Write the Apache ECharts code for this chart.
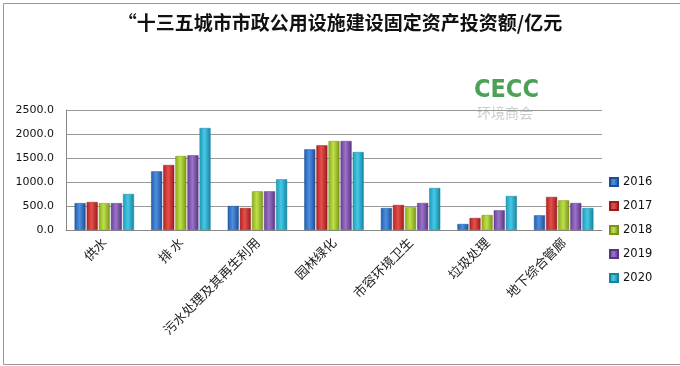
<!DOCTYPE html>
<html><head><meta charset="utf-8">
<script src="https://cdn.jsdelivr.net/npm/echarts@6/dist/echarts.min.js"></script>
<style>html,body{margin:0;padding:0;background:#fff}#c{width:680px;height:366px}</style>
</head><body><div id="c"></div>
<script>
const categories = ['供水','排 水','污水处理及其再生利用','园林绿化','市容环境卫生','垃圾处理','地下综合管廊'];
const years = ['2016','2017','2018','2019','2020'];
const v2016 = [560, 1222, 500, 1681, 458, 125, 306];
const v2017 = [583, 1354, 458, 1764, 521, 250, 688];
const v2018 = [560, 1542, 806, 1854, 473, 312, 618];
const v2019 = [560, 1556, 806, 1854, 562, 410, 562];
const v2020 = [750, 2125, 1056, 1625, 875, 708, 458];
const yTicks = [0, 500, 1000, 1500, 2000, 2500];
const seriesData = [v2016, v2017, v2018, v2019, v2020];
const colors = [
  ['#1f5fae','#4d8fe0','#1d4f96'],
  ['#b3211f','#e5504c','#9a1b1a'],
  ['#8aab1f','#bfe04a','#789418'],
  ['#6a3f98','#9a74c8','#5a3382'],
  ['#1d9bbb','#45c8e6','#17839f']
];
const chart = echarts.init(document.getElementById('c'));
chart.setOption({
  animation: false,
  title: {
    text: '“十三五城市市政公用设施建设固定资产投资额/亿元',
    left: 'center', top: 8,
    textStyle: {fontFamily: 'Noto Sans CJK SC', fontWeight: 'bold', fontSize: 19, color: '#111'}
  },
  graphic: [
    {type: 'rect', left: 1, top: 1, shape: {width: 677, height: 361}, style: {fill: 'none', stroke: '#999', lineWidth: 1}, z: -1},
    {type: 'text', left: 474, top: 78, style: {text: 'CECC', font: 'bold 25px "Liberation Sans Narrow", "DejaVu Sans Condensed", sans-serif', fill: '#2e8f3a', opacity: 0.85}},
    {type: 'text', left: 477, top: 106, style: {text: '环境商会', font: '14px "Noto Sans CJK SC"', fill: '#ccc'}}
  ],
  legend: {
    orient: 'vertical', left: 604, top: 171, itemGap: 12,
    itemWidth: 8, itemHeight: 8, icon: 'rect',
    textStyle: {fontFamily: 'DejaVu Sans', fontSize: 11.5, color: '#111'},
    data: years
  },
  grid: {left: 66, right: 78, top: 110, bottom: 136},
  xAxis: {
    type: 'category', data: categories,
    axisLine: {lineStyle: {color: '#888'}},
    axisTick: {show: false},
    axisLabel: {rotate: 45, interval: 0, fontFamily: 'Noto Sans CJK SC', fontSize: 13, color: '#222', margin: 10}
  },
  yAxis: {
    type: 'value', min: 0, max: 2500, interval: 500,
    axisLine: {show: true, lineStyle: {color: '#888'}},
    axisTick: {show: false},
    splitLine: {lineStyle: {color: '#999'}},
    axisLabel: {formatter: v => v.toFixed(1), fontFamily: 'DejaVu Sans', fontSize: 11, color: '#111', margin: 12}
  },
  series: years.map((y, i) => ({
    name: y, type: 'bar', data: seriesData[i], barWidth: 11, barGap: '10%',
    itemStyle: {
      color: new echarts.graphic.LinearGradient(0, 0, 1, 0, [
        {offset: 0, color: colors[i][0]},
        {offset: 0.45, color: colors[i][1]},
        {offset: 1, color: colors[i][2]}
      ]),
      borderColor: colors[i][2], borderWidth: 0.5
    }
  }))
});
</script></body></html>
